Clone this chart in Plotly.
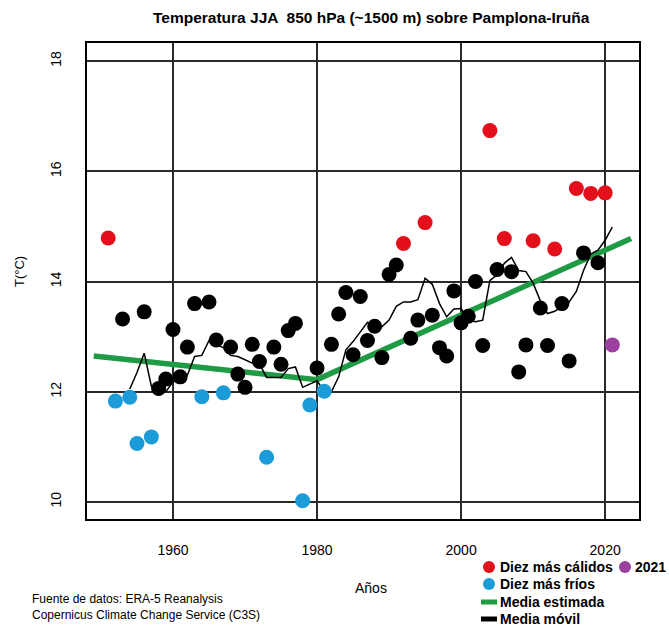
import plotly.graph_objects as go

# JJA mean temperature at 850 hPa over Pamplona-Iruña (ERA-5)
years = list(range(1951, 2022))
temps = [
    14.79, 11.83, 13.32, 11.90, 11.06, 13.45, 11.18, 12.06, 12.23, 13.13,  # 1951-1960
    12.27, 12.81, 13.60, 11.91, 13.63, 12.94, 11.98, 12.81, 12.32, 12.08,  # 1961-1970
    12.86, 12.55, 10.81, 12.81, 12.50, 13.11, 13.24, 10.02, 11.76, 12.43,  # 1971-1980
    12.01, 12.86, 13.41, 13.80, 12.67, 13.73, 12.93, 13.19, 12.62, 14.13,  # 1981-1990
    14.30, 14.69, 12.97, 13.30, 15.07, 13.39, 12.80, 12.65, 13.83, 13.25,  # 1991-2000
    13.37, 14.00, 12.84, 16.74, 14.22, 14.78, 14.18, 12.36, 12.85, 14.74,  # 2001-2010
    13.52, 12.84, 14.59, 13.60, 12.56, 15.69, 14.52, 15.60, 14.34, 15.61,  # 2011-2020
    12.85,                                                                 # 2021
]

warmest_years = [1951, 1992, 1995, 2004, 2006, 2010, 2013, 2016, 2018, 2020]
coldest_years = [1952, 1954, 1955, 1957, 1964, 1967, 1973, 1978, 1979, 1981]
current_year = 2021

# Moving average
ma_years = list(range(1954, 2022))
ma_values = [
    12.05, 12.35, 12.70, 12.10, 12.00, 12.00, 12.18, 12.27, 12.30, 12.64,  # 1954-1963
    12.66, 12.93, 12.85, 12.80, 12.66, 12.64, 12.58, 12.52, 12.50, 12.26,  # 1964-1973
    12.26, 12.26, 12.42, 12.45, 12.08, 12.14, 12.20, 12.00, 12.00, 12.27,  # 1974-1983
    12.76, 12.91, 13.08, 13.26, 13.15, 13.18, 13.30, 13.55, 13.63, 13.63,  # 1984-1993
    13.67, 14.06, 13.95, 13.60, 13.36, 13.50, 13.51, 13.30, 13.27, 13.30,  # 1994-2003
    14.02, 14.12, 14.33, 14.44, 14.20, 14.18, 13.97, 13.65, 13.42, 13.46,  # 2004-2013
    13.55, 13.63, 13.82, 14.20, 14.50, 14.57, 14.75, 14.99,                # 2014-2021
]

# Estimated mean: piecewise linear trend with a break in 1980
trend_years = [1949, 1980, 2023.6]
trend_values = [12.65, 12.22, 14.78]

x_ticks = [1960, 1980, 2000, 2020]
y_ticks = [10, 12, 14, 16, 18]

RED = "#e3101b"
BLUE = "#1b9bd8"
PURPLE = "#9b409f"
GREEN = "#1f9a45"

lookup = dict(zip(years, temps))
normal_years = [y for y in years
                if y not in warmest_years and y not in coldest_years and y != current_year]

fig = go.Figure()

fig.add_trace(go.Scatter(x=trend_years, y=trend_values, mode="lines",
                         line=dict(color=GREEN, width=5.5), hoverinfo="skip"))
fig.add_trace(go.Scatter(x=ma_years, y=ma_values, mode="lines",
                         line=dict(color="black", width=1.5), hoverinfo="skip"))

def dots(xs, color):
    return go.Scatter(x=xs, y=[lookup[y] for y in xs], mode="markers",
                      marker=dict(color=color, size=15, line=dict(width=0)))

fig.add_trace(dots(normal_years, "black"))
fig.add_trace(dots(warmest_years, RED))
fig.add_trace(dots(coldest_years, BLUE))
fig.add_trace(dots([current_year], PURPLE))

# Plot-area geometry in pixels
W, H = 669, 626
L, R, T, B = 87, 639, 43, 519


def px(x):
    return (x - L) / (R - L)


def py(y):
    return (B - y) / (B - T)


annotations = [
    dict(text="<b>Temperatura JJA  850 hPa (~1500 m) sobre Pamplona-Iruña</b>",
         x=px(371), y=py(18), font=dict(size=15.5)),
    dict(text="T(°C)", x=px(19), y=py(272), textangle=-90, font=dict(size=13)),
    dict(text="Años", x=px(371), y=py(588), font=dict(size=14)),
    dict(text="Fuente de datos: ERA-5 Reanalysis", x=px(30), y=py(599),
         xanchor="left", font=dict(size=12)),
    dict(text="Copernicus Climate Change Service (C3S)", x=px(30), y=py(615),
         xanchor="left", font=dict(size=12)),
]

legend_rows = [
    ("Diez más cálidos", RED, "dot", 567),
    ("Diez más fríos", BLUE, "dot", 584),
    ("Media estimada", GREEN, "bar", 602),
    ("Media móvil", "black", "bar", 619),
]

shapes = []


def legend_dot(cx, cy, color):
    shapes.append(dict(type="circle", xref="paper", yref="paper",
                       xsizemode="pixel", ysizemode="pixel",
                       xanchor=px(cx), yanchor=py(cy),
                       x0=-6, x1=6, y0=-6, y1=6,
                       fillcolor=color, line=dict(width=0)))


for label, color, kind, cy in legend_rows:
    if kind == "dot":
        legend_dot(489, cy, color)
    else:
        shapes.append(dict(type="rect", xref="paper", yref="paper",
                           xsizemode="pixel", ysizemode="pixel",
                           xanchor=px(489), yanchor=py(cy),
                           x0=-8, x1=8, y0=-2.5, y1=2.5,
                           fillcolor=color, line=dict(width=0)))
    annotations.append(dict(text=f"<b>{label}</b>", x=px(498), y=py(cy),
                            xanchor="left", font=dict(size=14)))

legend_dot(625, 567, PURPLE)
annotations.append(dict(text="<b>2021</b>", x=px(633), y=py(567),
                        xanchor="left", font=dict(size=14)))

for a in annotations:
    a.setdefault("xref", "paper")
    a.setdefault("yref", "paper")
    a.setdefault("showarrow", False)
    a.setdefault("xanchor", "center")
    a.setdefault("yanchor", "middle")

fig.update_layout(
    width=W, height=H,
    margin=dict(l=L, r=W - R, t=T, b=H - B),
    paper_bgcolor="white", plot_bgcolor="white",
    showlegend=False,
    font=dict(family="Liberation Sans, Arial, sans-serif", color="black"),
    annotations=annotations,
    shapes=shapes,
)

fig.update_xaxes(range=[1948.06, 2024.7], tickvals=x_ticks,
                 showgrid=True, gridcolor="#2a2a2a", gridwidth=1.5,
                 showline=True, mirror=True, linecolor="black", linewidth=2,
                 zeroline=False, ticks="", ticklabelstandoff=17,
                 tickfont=dict(size=14))
fig.update_yaxes(range=[9.69, 18.33], tickvals=y_ticks,
                 showgrid=True, gridcolor="#2a2a2a", gridwidth=1.5,
                 showline=True, mirror=True, linecolor="black", linewidth=2,
                 zeroline=False, ticks="", tickangle=-90, ticklabelstandoff=18,
                 tickfont=dict(size=14))

fig.write_html("out.html")
